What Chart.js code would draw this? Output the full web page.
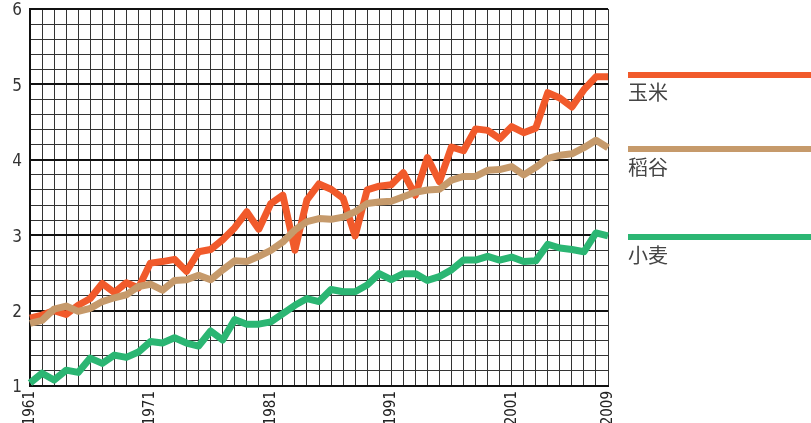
<!DOCTYPE html>
<html>
<head>
<meta charset="utf-8">
<script src="https://cdn.jsdelivr.net/npm/chart.js@4"></script>
<style>
    body { margin: 0; background: #fff; }
    #wrap { position: relative; width: 811px; height: 423px; }
    .key { position: absolute; left: 628px; right: 0; height: 6px; }
    .name { position: absolute; left: 628px; font: 20px/1 "Noto Sans CJK SC", sans-serif; color: #444; }
</style>
</head>
<body>
<div id="wrap">
    <canvas id="grainChart" width="811" height="423"></canvas>
    <div class="key" style="top:72px;background:#f15a2b"></div>
    <div class="name" style="top:82px">玉米</div>
    <div class="key" style="top:146px;background:#c69a6b"></div>
    <div class="name" style="top:157px">稻谷</div>
    <div class="key" style="top:234px;background:#2bb673"></div>
    <div class="name" style="top:245px">小麦</div>
</div>
<script>
// Years 1961 - 2009
const years = [];
for (let y = 1961; y <= 2009; y++) years.push(String(y));

// Labelled years on the x axis
const shownYears = ['1961', '1971', '1981', '1991', '2001', '2009'];

// Yield values (t/ha)
const maize = [
    1.90, 1.94, 2.00, 1.95, 2.07, 2.16, 2.36, 2.24, 2.37, 2.30,
    2.63, 2.65, 2.68, 2.52, 2.78, 2.81, 2.94, 3.10, 3.31, 3.08,
    3.42, 3.53, 2.80, 3.47, 3.68, 3.61, 3.49, 2.99, 3.60, 3.65,
    3.67, 3.83, 3.53, 4.03, 3.71, 4.17, 4.12, 4.41, 4.39, 4.28,
    4.44, 4.36, 4.42, 4.89, 4.82, 4.70, 4.93, 5.10, 5.10
];
const rice = [
    1.83, 1.87, 2.02, 2.06, 1.99, 2.03, 2.12, 2.17, 2.21, 2.32,
    2.35, 2.27, 2.40, 2.41, 2.47, 2.41, 2.54, 2.66, 2.65, 2.72,
    2.80, 2.91, 3.07, 3.18, 3.22, 3.21, 3.24, 3.31, 3.42, 3.44,
    3.45, 3.51, 3.57, 3.60, 3.61, 3.73, 3.78, 3.78, 3.86, 3.87,
    3.91, 3.80, 3.90, 4.02, 4.06, 4.08, 4.16, 4.26, 4.16
];
const wheat = [
    1.04, 1.17, 1.08, 1.21, 1.18, 1.37, 1.30, 1.41, 1.38, 1.45,
    1.59, 1.57, 1.64, 1.57, 1.53, 1.73, 1.61, 1.88, 1.82, 1.82,
    1.85, 1.96, 2.07, 2.16, 2.12, 2.28, 2.25, 2.25, 2.34, 2.49,
    2.41, 2.49, 2.49, 2.40, 2.45, 2.54, 2.67, 2.67, 2.72, 2.67,
    2.71, 2.65, 2.66, 2.88, 2.83, 2.81, 2.78, 3.03, 2.99
];

const tickFont = "'Liberation Sans Narrow', 'DejaVu Sans Condensed', sans-serif";

function series(data, color) {
    return {
        data,
        borderColor: color,
        borderWidth: 7,
        pointRadius: 0,
        tension: 0,
        borderJoinStyle: 'round',
        clip: 10
    };
}

// integer rows get the heavier line
const isMajor = v => Number.isInteger(Math.round(v * 100) / 100);

new Chart(document.getElementById('grainChart'), {
    type: 'line',
    data: {
        labels: years,
        datasets: [
            series(wheat, '#2bb673'),
            series(rice, '#c69a6b'),
            series(maize, '#f15a2b')
        ]
    },
    options: {
        responsive: false,
        animation: false,
        layout: { padding: { top: 9, right: 203, left: 0, bottom: 0 } },
        plugins: { legend: { display: false }, tooltip: { enabled: false } },
        scales: {
            x: {
                offset: false,
                grid: { offset: false, color: '#333', lineWidth: 1, drawTicks: false },
                border: { color: '#111', width: 2 },
                ticks: {
                    autoSkip: false,
                    maxRotation: 90,
                    minRotation: 90,
                    padding: 5,
                    color: '#222',
                    font: { family: tickFont, size: 15 },
                    callback(val) {
                        const lab = this.getLabelForValue(val);
                        return shownYears.includes(lab) ? lab : '';
                    }
                },
                afterFit(scale) { scale.height = 37; }
            },
            y: {
                min: 1,
                max: 6,
                grid: {
                    drawTicks: false,
                    color: ctx => isMajor(ctx.tick.value) ? '#111' : '#333',
                    lineWidth: ctx => isMajor(ctx.tick.value) ? 2 : 1
                },
                border: { color: '#111', width: 2 },
                ticks: {
                    stepSize: 0.2,
                    autoSkip: false,
                    padding: 8,
                    labelOffset: 2,
                    color: '#333',
                    font: { family: tickFont, size: 17 },
                    callback(val) {
                        const v = Math.round(val * 100) / 100;
                        return Number.isInteger(v) ? String(v) : '';
                    }
                },
                afterFit(scale) {
                    scale.width = 30;
                    scale.paddingTop = 0;
                    scale.paddingBottom = 0;
                }
            }
        }
    }
});
</script>
</body>
</html>
